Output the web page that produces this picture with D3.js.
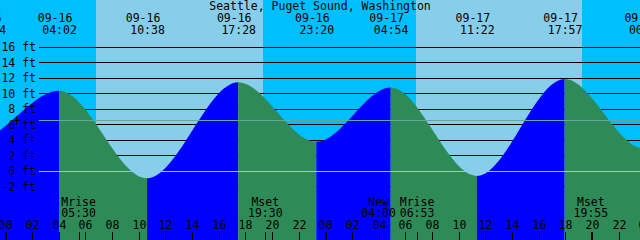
<!DOCTYPE html>
<html>
<head>
<meta charset="utf-8">
<script src="https://cdn.jsdelivr.net/npm/d3@7"></script>
<style>
  body { margin: 0; background: #fff; }
  svg { display: block; }
  text { font-family: "DejaVu Sans Mono", monospace; font-size: 11.5px; fill: #000; }
</style>
</head>
<body>
<div id="chart"></div>
<script>
const title = "Seattle, Puget Sound, Washington";

// highs and lows (first and last are just off the edges)
const extremeTimes = ["09-15 22:44", "09-16 04:02", "09-16 10:38", "09-16 17:28", "09-16 23:20",
                      "09-17 04:54", "09-17 11:22", "09-17 17:57", "09-18 00:02"];
const extremeHeights = [4.2, 10.4, -0.9, 11.5, 3.8, 10.8, -0.6, 11.9, 2.9];

// water level where the curve meets the left / right edge
const edgeTimes = ["09-15 23:36", "09-17 23:39"];
const edgeHeights = [5.3, 3.0];

// sunrise, sunset, sunrise, sunset
const sunTimes = ["09-16 06:48", "09-16 19:20", "09-17 06:47", "09-17 19:16"];

const moonTimes = ["09-16 05:30", "09-16 19:30", "09-17 04:00", "09-17 06:53", "09-17 19:55"];
const moonLabels = ["Mrise", "Mset", "New", "Mrise", "Mset"];

const heightTicks = [16, 14, 12, 10, 8, 6, 4, 2, 0, -2];
const meanSeaLevel = 6.6;

const width = 640, height = 240;
const dayColor = "#87CEEB", nightColor = "#00BFFF";
const riseColor = "#0000FF", fallColor = "#2E8B57";

const parse = s => d3.utcParse("%Y-%m-%d %H:%M")("2020-" + s);

const x = d3.scaleUtc()
  .domain([parse("09-16 00:00"), parse("09-18 00:00")])
  .range([5.3, 645.3]);
const xr = x.copy().interpolate(d3.interpolateRound);
const y = d3.scaleLinear().domain([0, 16]).range([171.3, 47.3]);
const crisp = v => Math.floor(v) + 0.5;

const svg = d3.select("#chart").append("svg")
  .attr("width", width)
  .attr("height", height);

// sky: night / day bands
const bounds = [x.invert(0), ...sunTimes.map(parse), x.invert(width)];
svg.append("g").selectAll("rect")
  .data(d3.pairs(bounds))
  .join("rect")
  .attr("x", d => xr(d[0]))
  .attr("y", 0)
  .attr("width", d => xr(d[1]) - xr(d[0]))
  .attr("height", height)
  .attr("fill", (d, i) => i % 2 ? dayColor : nightColor);

// height grid lines (under the water)
svg.append("g").selectAll("line")
  .data(heightTicks)
  .join("line")
  .attr("x1", 39).attr("x2", width)
  .attr("y1", d => crisp(y(d))).attr("y2", d => crisp(y(d)))
  .attr("stroke", "#000");

// water
const tide = extremeTimes.map((t, i) => ({ t: parse(t), h: extremeHeights[i] }))
  .concat(edgeTimes.map((t, i) => ({ t: parse(t), h: edgeHeights[i] })))
  .sort((a, b) => a.t - b.t);

const area = d3.area()
  .x(d => x(d.t))
  .y0(height)
  .y1(d => y(d.h))
  .curve(d3.curveMonotoneX);

svg.append("clipPath").attr("id", "water")
  .append("path").attr("d", area(tide));

svg.append("g").attr("clip-path", "url(#water)")
  .selectAll("rect")
  .data(d3.pairs(tide))
  .join("rect")
  .attr("x", d => x(d[0].t))
  .attr("y", 0)
  .attr("width", d => x(d[1].t) - x(d[0].t))
  .attr("height", height)
  .attr("fill", d => d[1].h > d[0].h ? riseColor : fallColor);

// mean sea level and datum lines
svg.append("line")
  .attr("x1", 39).attr("x2", width)
  .attr("y1", crisp(y(meanSeaLevel))).attr("y2", crisp(y(meanSeaLevel)))
  .attr("stroke", "#62a89e");
svg.append("line")
  .attr("x1", 39).attr("x2", width)
  .attr("y1", crisp(y(0))).attr("y2", crisp(y(0)))
  .attr("stroke", "#8ecbe8");
svg.append("path")
  .attr("d", `M12,${crisp(y(meanSeaLevel))}H20M16.5,${crisp(y(meanSeaLevel)) - 4}V${crisp(y(meanSeaLevel)) + 4}`)
  .attr("stroke", "#000");

// height labels
svg.append("g").selectAll("text")
  .data(heightTicks)
  .join("text")
  .attr("x", 36)
  .attr("y", d => y(d) + 4)
  .attr("text-anchor", "end")
  .text(d => `${d} ft`);

// title + high/low labels
svg.append("text")
  .attr("x", width / 2).attr("y", 10)
  .attr("text-anchor", "middle")
  .text(title);

const ext = svg.append("g").selectAll("g")
  .data(extremeTimes.map(parse))
  .join("g");
ext.append("text")
  .attr("x", d => x(d) - 4).attr("y", 21.7)
  .attr("text-anchor", "middle")
  .text(d3.utcFormat("%m-%d"));
ext.append("text")
  .attr("x", d => x(d) + 0.5).attr("y", 33.6)
  .attr("text-anchor", "middle")
  .text(d3.utcFormat("%H:%M"));

// moon events
const moon = svg.append("g").selectAll("g")
  .data(moonTimes.map((t, i) => ({ t: parse(t), label: moonLabels[i] })))
  .join("g");
moon.append("text")
  .attr("x", d => x(d.t)).attr("y", 206)
  .attr("text-anchor", "middle")
  .text(d => d.label);
moon.append("text")
  .attr("x", d => x(d.t)).attr("y", 217.3)
  .attr("text-anchor", "middle")
  .text(d => d3.utcFormat("%H:%M")(d.t));
moon.append("line")
  .attr("x1", d => xr(d.t) + 0.5).attr("x2", d => xr(d.t) + 0.5)
  .attr("y1", 232).attr("y2", height)
  .attr("stroke", "#000");

// hour axis along the bottom
const axis = svg.append("g")
  .attr("transform", `translate(0,${height})`)
  .call(d3.axisTop(xr)
    .ticks(d3.utcHour.every(2))
    .tickFormat(d3.utcFormat("%H"))
    .tickSize(8)
    .tickPadding(3));
axis.select(".domain").remove();
axis.attr("font-family", null).attr("font-size", null);
axis.selectAll(".tick line").attr("stroke", "#000");
axis.selectAll(".tick text").attr("fill", "#000");
axis.selectAll(".tick")
  .filter(d => d.getUTCHours() === 0)
  .select("line")
  .attr("x1", 0.5).attr("x2", 0.5)
  .attr("stroke-width", 2);
</script>
</body>
</html>
